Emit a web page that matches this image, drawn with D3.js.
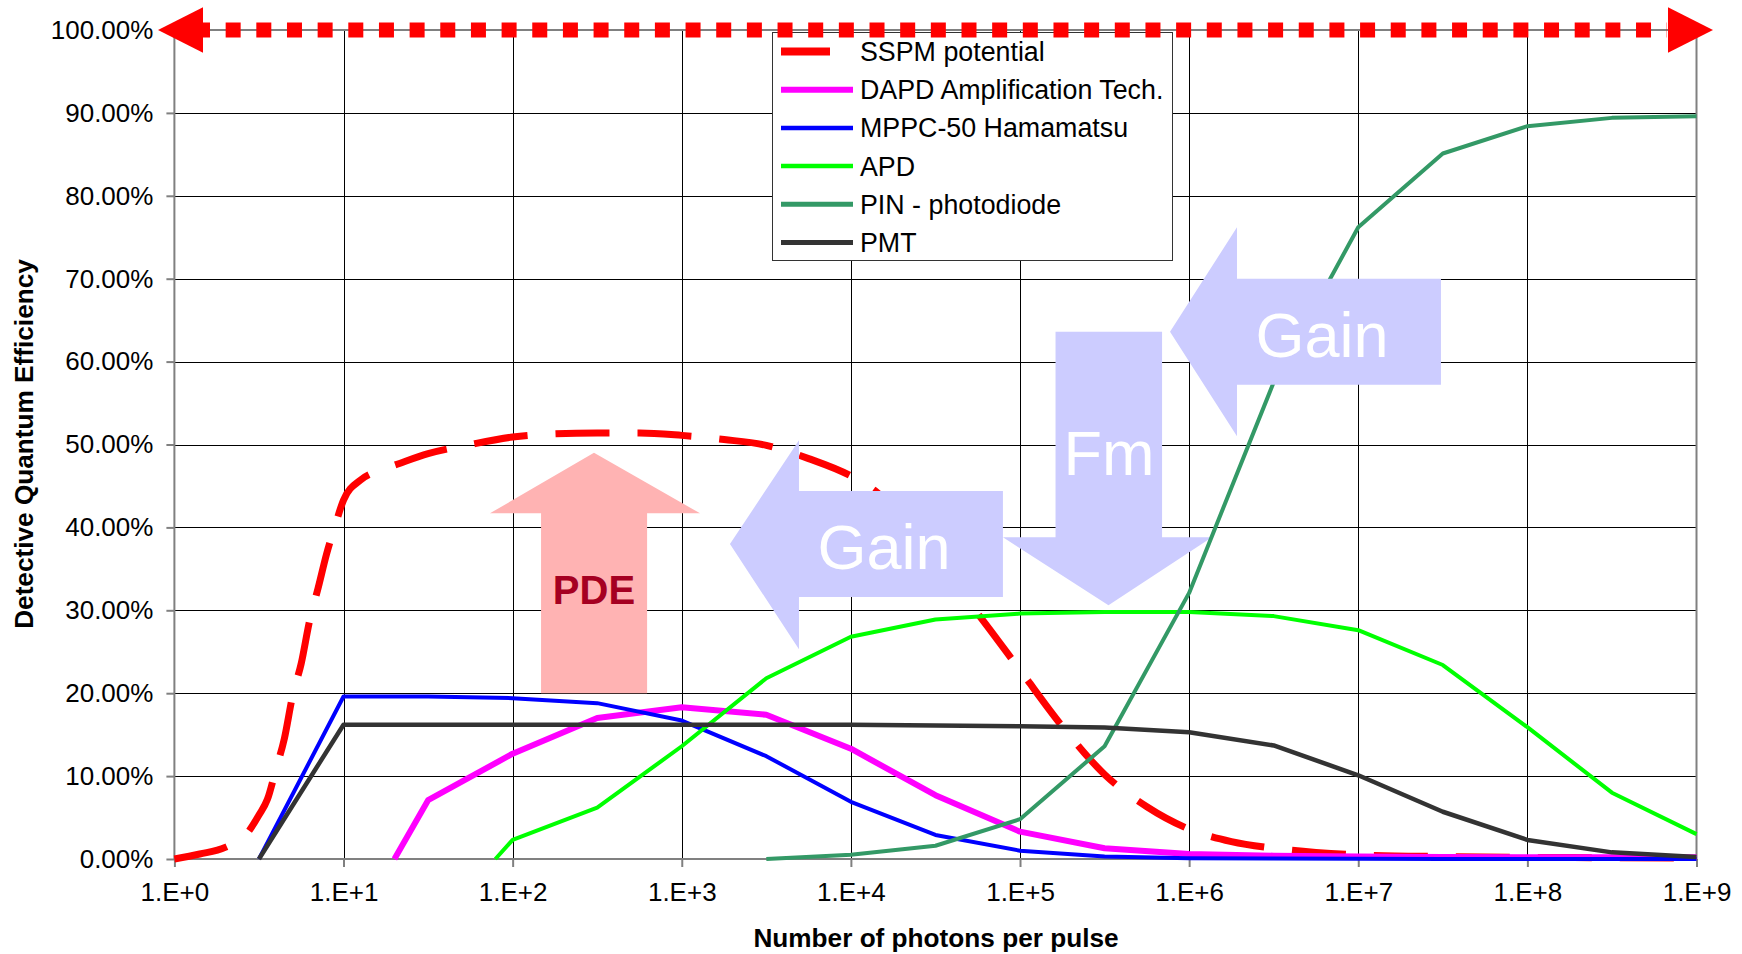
<!DOCTYPE html>
<html>
<head>
<meta charset="utf-8">
<script src="https://cdn.jsdelivr.net/npm/d3@7"></script>
<style>
  html, body { margin: 0; padding: 0; background: #fff; }
  svg { display: block; font-family: "Liberation Sans", Arial, Helvetica, sans-serif; }
</style>
</head>
<body>
<svg id="chart" width="1742" height="954"></svg>
<script>
// ---- Axis ticks -----------------------------------------------------------
// Photon counts are stored as decades (log10 of photons per pulse).
const xTickDecades = [0, 1, 2, 3, 4, 5, 6, 7, 8, 9];
const xTickLabels  = ["1.E+0", "1.E+1", "1.E+2", "1.E+3", "1.E+4", "1.E+5", "1.E+6", "1.E+7", "1.E+8", "1.E+9"];
const yTicks       = [0, 10, 20, 30, 40, 50, 60, 70, 80, 90, 100];
const yTickLabels  = ["0.00%", "10.00%", "20.00%", "30.00%", "40.00%", "50.00%", "60.00%", "70.00%", "80.00%", "90.00%", "100.00%"];

// ---- Series (detective quantum efficiency, %) -----------------------------
const seriesNames = ["SSPM potential", "DAPD Amplification Tech.", "MPPC-50 Hamamatsu", "APD", "PIN - photodiode", "PMT"];

const sspmDecades = [0, 0.15, 0.3, 0.43, 0.5, 0.55, 0.6, 0.65, 0.7, 0.75, 0.8, 0.85, 0.9, 0.95, 1.0, 1.1, 1.2, 1.3, 1.5, 1.75, 2.0, 2.25, 2.5, 2.75, 3.0, 3.25, 3.5, 3.75, 4.0, 4.15, 4.25, 4.5, 4.75, 5.0, 5.25, 5.5, 5.75, 6.0, 6.25, 6.5, 6.75, 7.0, 7.5, 8.0, 8.5, 9.0];
const sspmValues  = [0, 0.6, 1.4, 3.1, 5.3, 7.2, 10.8, 14.5, 19.8, 23.6, 28.8, 32.7, 36.8, 40.2, 43.3, 45.7, 46.8, 47.5, 48.9, 50.0, 50.9, 51.3, 51.4, 51.4, 51.1, 50.6, 49.9, 48.3, 46.2, 44.3, 42.5, 36.0, 29.6, 22.8, 16.0, 10.2, 6.3, 3.6, 2.1, 1.3, 0.8, 0.5, 0.3, 0.2, 0.15, 0.1];

const dapdDecades = [1.301, 1.5, 2, 2.5, 3, 3.5, 4, 4.5, 5, 5.5, 6, 6.5, 7, 7.5, 8, 8.5, 9];
const dapdValues  = [0, 7.1, 12.7, 17.0, 18.3, 17.4, 13.3, 7.7, 3.3, 1.3, 0.6, 0.4, 0.3, 0.25, 0.2, 0.2, 0.2];

const mppcDecades = [0.5, 1, 1.5, 2, 2.5, 3, 3.5, 4, 4.5, 5, 5.5, 6, 6.5, 7, 7.5, 8, 8.5, 9];
const mppcValues  = [0, 19.6, 19.6, 19.4, 18.8, 16.7, 12.4, 6.9, 2.9, 1.0, 0.3, 0.1, 0.05, 0.02, 0, 0, 0, 0];

const apdDecades  = [1.898, 2, 2.5, 3, 3.5, 4, 4.5, 5, 5.5, 6, 6.5, 7, 7.5, 8, 8.5, 9];
const apdValues   = [0, 2.3, 6.2, 13.6, 21.8, 26.8, 28.9, 29.6, 29.8, 29.8, 29.3, 27.6, 23.4, 15.9, 8.0, 3.0];

const pinDecades  = [3.5, 4, 4.5, 5, 5.5, 6, 6.5, 7, 7.5, 8, 8.5, 9];
const pinValues   = [0, 0.5, 1.6, 4.8, 13.6, 32.1, 57.5, 76.2, 85.1, 88.4, 89.4, 89.6];

const pmtDecades  = [0.5, 1, 1.5, 2, 2.5, 3, 3.5, 4, 4.5, 5, 5.5, 6, 6.5, 7, 7.5, 8, 8.5, 9];
const pmtValues   = [0, 16.2, 16.2, 16.2, 16.2, 16.2, 16.2, 16.2, 16.1, 16.0, 15.85, 15.3, 13.7, 10.1, 5.7, 2.3, 0.8, 0.25];

// ---- Annotation arrows: vertices as [decade, percent] ---------------------
const pdeArrow   = [[2.481, 49.0], [3.108, 41.7], [2.795, 41.7], [2.795, 20.0], [2.168, 20.0], [2.168, 41.7], [1.866, 41.7]];
const gainArrowA = [[3.285, 38.0], [3.693, 50.5], [3.693, 44.4], [4.899, 44.4], [4.899, 31.6], [3.693, 31.6], [3.693, 25.3]];
const fmArrow    = [[5.21, 63.6], [5.84, 63.6], [5.84, 38.8], [6.135, 38.8], [5.523, 30.6], [4.899, 38.8], [5.21, 38.8]];
const gainArrowB = [[5.887, 63.6], [6.283, 76.2], [6.283, 70.0], [7.489, 70.0], [7.489, 57.2], [6.283, 57.2], [6.283, 51.0]];

const arrowLabels = [
  { text: "PDE",  at: [2.481, 30.8], size: 40, weight: "bold",   color: "#A50021" },
  { text: "Gain", at: [4.196, 35.0], size: 63, weight: "normal", color: "#FFFFFF" },
  { text: "Fm",   at: [5.526, 46.3], size: 63, weight: "normal", color: "#FFFFFF" },
  { text: "Gain", at: [6.786, 60.6], size: 63, weight: "normal", color: "#FFFFFF" }
];

// ---- Scales ---------------------------------------------------------------
const svg = d3.select("#chart");
const plot = { left: 174.4, right: 1696.5, top: 30, bottom: 859 };

const x = d3.scaleLog().domain([1, 1e9]).range([plot.left, plot.right]);
const y = d3.scaleLinear().domain([0, 100]).range([plot.bottom, plot.top]);
const px = d => x(Math.pow(10, d));
const crisp = v => Math.round(v) + 0.5;

const series = [
  { name: seriesNames[0], decades: sspmDecades, values: sspmValues, color: "#FF0000", width: 7,   dash: "54 28", curve: d3.curveMonotoneX, legendWidth: 8, legendDash: "49 40" },
  { name: seriesNames[1], decades: dapdDecades, values: dapdValues, color: "#FF00FF", width: 6,   curve: d3.curveLinear, legendWidth: 6 },
  { name: seriesNames[2], decades: mppcDecades, values: mppcValues, color: "#0000FF", width: 4,   curve: d3.curveLinear, legendWidth: 4.5 },
  { name: seriesNames[3], decades: apdDecades,  values: apdValues,  color: "#00FF00", width: 4,   curve: d3.curveLinear, legendWidth: 4.5 },
  { name: seriesNames[4], decades: pinDecades,  values: pinValues,  color: "#339966", width: 4,   curve: d3.curveLinear, legendWidth: 5 },
  { name: seriesNames[5], decades: pmtDecades,  values: pmtValues,  color: "#333333", width: 4.5, curve: d3.curveLinear, legendWidth: 5 }
];

// ---- Grid -----------------------------------------------------------------
const grid = svg.append("g");
grid.selectAll("line.v").data(xTickDecades.slice(1, -1)).join("line")
  .attr("x1", d => crisp(px(d))).attr("x2", d => crisp(px(d)))
  .attr("y1", plot.top).attr("y2", plot.bottom)
  .attr("stroke", "#000").attr("stroke-width", 1);
grid.selectAll("line.h").data(yTicks.slice(1, -1)).join("line")
  .attr("x1", plot.left).attr("x2", plot.right)
  .attr("y1", d => crisp(y(d))).attr("y2", d => crisp(y(d)))
  .attr("stroke", "#000").attr("stroke-width", 1);

// Plot frame
svg.append("rect")
  .attr("x", plot.left).attr("y", plot.top)
  .attr("width", plot.right - plot.left).attr("height", plot.bottom - plot.top)
  .attr("fill", "none").attr("stroke", "#808080").attr("stroke-width", 2);

// ---- Axes -----------------------------------------------------------------
const yAxis = svg.append("g").attr("transform", `translate(${plot.left},0)`)
  .call(d3.axisLeft(y).tickValues(yTicks).tickFormat((d, i) => yTickLabels[i]).tickSize(8).tickPadding(13));
const xAxis = svg.append("g").attr("transform", `translate(0,${plot.bottom})`)
  .call(d3.axisBottom(x).tickValues(xTickDecades.map(d => Math.pow(10, d))).tickFormat((d, i) => xTickLabels[i]).tickSize(8).tickPadding(16));
[xAxis, yAxis].forEach(a => {
  a.select(".domain").remove();
  a.selectAll(".tick line").attr("stroke", "#808080").attr("stroke-width", 2);
  a.selectAll(".tick text").attr("fill", "#000")
    .style("font-family", '"Liberation Sans", Arial, sans-serif').style("font-size", "26px");
});

// Axis titles
svg.append("text")
  .attr("x", 936).attr("y", 947).attr("text-anchor", "middle")
  .attr("font-size", 26.2).attr("font-weight", "bold").attr("fill", "#000")
  .text("Number of photons per pulse");
svg.append("text")
  .attr("transform", "translate(33,444) rotate(-90)").attr("text-anchor", "middle")
  .attr("font-size", 26.2).attr("font-weight", "bold").attr("fill", "#000")
  .text("Detective Quantum Efficiency");

// ---- Annotation arrow shapes ------------------------------------------------
const polygon = pts => pts.map(p => `${px(p[0])},${y(p[1])}`).join(" ");
const arrows = svg.append("g");
const drawArrow = (pts, fill) => arrows.append("polygon").attr("points", polygon(pts)).attr("fill", fill);

// The Fm arrow sits beneath the curves
drawArrow(fmArrow, "#CCCCFF");

// ---- Series lines -----------------------------------------------------------
const lines = svg.append("g").attr("fill", "none").attr("stroke-linejoin", "round");
series.forEach(s => {
  const pts = s.decades.map((d, i) => [px(d), y(s.values[i])]);
  lines.append("path")
    .attr("d", d3.line().curve(s.curve)(pts))
    .attr("stroke", s.color)
    .attr("stroke-width", s.width)
    .attr("stroke-dasharray", s.dash || null);
});

// Remaining arrows cover the curves
const overArrows = svg.append("g");
overArrows.append("polygon").attr("points", polygon(pdeArrow)).attr("fill", "#FFB3B3");
overArrows.append("polygon").attr("points", polygon(gainArrowA)).attr("fill", "#CCCCFF");
overArrows.append("polygon").attr("points", polygon(gainArrowB)).attr("fill", "#CCCCFF");

svg.append("g").selectAll("text").data(arrowLabels).join("text")
  .attr("x", d => px(d.at[0])).attr("y", d => y(d.at[1]))
  .attr("text-anchor", "middle")
  .attr("font-size", d => d.size).attr("font-weight", d => d.weight)
  .attr("fill", d => d.color)
  .text(d => d.text);

// ---- Legend -----------------------------------------------------------------
const legend = svg.append("g").attr("transform", "translate(772,32)");
legend.append("rect").attr("x", 0.5).attr("y", 0.5).attr("width", 400).attr("height", 228)
  .attr("fill", "#fff").attr("stroke", "#333").attr("stroke-width", 1);
const rows = legend.selectAll("g.row").data(series).join("g")
  .attr("transform", (d, i) => `translate(0,${19.5 + i * 38.2})`);
rows.append("line")
  .attr("x1", 9).attr("x2", 81).attr("y1", 0).attr("y2", 0)
  .attr("stroke", d => d.color).attr("stroke-width", d => d.legendWidth)
  .attr("stroke-dasharray", d => d.legendDash || null);
rows.append("text")
  .attr("x", 88).attr("y", 9.5)
  .attr("font-size", 26.8).attr("fill", "#000")
  .text(d => d.name);

// ---- 100 % limit: dotted double-headed arrow --------------------------------
const topY = y(100);
const leftTip = plot.left - 16.4, rightTip = plot.right + 16.5, headLen = 45, headHalf = 22.8;
svg.append("line")
  .attr("x1", leftTip + 37).attr("x2", rightTip - 46)
  .attr("y1", topY).attr("y2", topY)
  .attr("stroke", "#FF0000").attr("stroke-width", 15)
  .attr("stroke-dasharray", "15 15.66");
svg.append("polygon")
  .attr("points", `${leftTip},${topY} ${leftTip + headLen},${topY - headHalf} ${leftTip + headLen},${topY + headHalf}`)
  .attr("fill", "#FF0000");
svg.append("polygon")
  .attr("points", `${rightTip},${topY} ${rightTip - headLen},${topY - headHalf} ${rightTip - headLen},${topY + headHalf}`)
  .attr("fill", "#FF0000");
</script>
</body>
</html>
